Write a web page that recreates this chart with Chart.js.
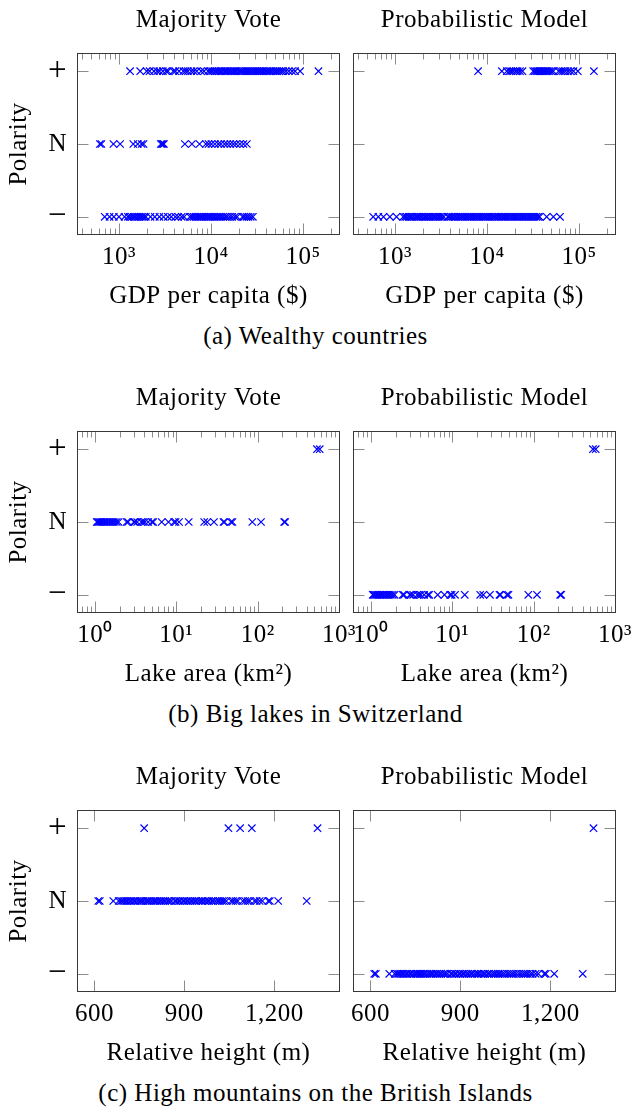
<!DOCTYPE html>
<html>
<head>
<meta charset="utf-8">
<script src="https://cdn.jsdelivr.net/npm/chart.js@4.4.1/dist/chart.umd.min.js"></script>
<style>
  body { margin: 0; background: #fff; width: 631px; height: 1107px; position: relative; overflow: hidden; }
  canvas { position: absolute; }
  .caption { position: absolute; left: 0; width: 631px; text-align: center; font: 25px "Liberation Serif"; letter-spacing: 0.5px; line-height: 30px; color: #000; }
</style>
</head>
<body>
<script>
// ---- data ----
const gdpTicks = [1e3, 1e4, 1e5];
const gdpTickLabels = ['10³', '10⁴', '10⁵'];
const gdpMinorTicks = [400, 500, 600, 700, 800, 900, 2000, 3000, 4000, 5000, 6000, 7000, 8000, 9000,
  20000, 30000, 40000, 50000, 60000, 70000, 80000, 90000, 200000];

const lakeTicks = [1, 10, 100, 1000];
const lakeTickLabels = ['10⁰', '10¹', '10²', '10³'];
const lakeMinorTicks = [0.7, 0.8, 0.9, 2, 3, 4, 5, 6, 7, 8, 9, 20, 30, 40, 50, 60, 70, 80, 90,
  200, 300, 400, 500, 600, 700, 800, 900];

const heightTicks = [600, 900, 1200];
const heightTickLabels = ['600', '900', '1,200'];

const polarityTicks = [-1, 0, 1];
const polarityLabels = ['−', 'N', '+'];

// (a) GDP per capita
const gdpVotePos = [1320, 1700, 2000, 2150, 2400, 2600, 2750, 3000, 3250, 3400, 3900, 4100, 4500, 5000,
  5300, 5600, 6100, 6500, 7000, 7800, 8400, 9300, 9800, 10300, 10900, 11400, 12000, 12600, 13100,
  13900, 14500, 15200, 16000, 16700, 17500, 18200, 19000, 20100, 21000, 21800, 22900, 24000, 25200,
  26300, 27600, 28800, 30200, 31500, 33000, 34400, 36000, 37500, 39500, 41000, 43000, 45000, 47500,
  50000, 52000, 55000, 58000, 61000, 65000, 70000, 76000, 82000, 93000, 147000];
const gdpVoteNeutral = [620, 645, 870, 1030, 1430, 1600, 1760, 1850, 2850, 2920, 3000, 3080, 5200,
  6200, 7500, 8800, 9400, 10100, 11000, 12000, 12800, 14000, 15000, 16200, 17500, 18800, 20600,
  22500, 24500];
const gdpVoteNeg = [700, 790, 880, 1000, 1150, 1250, 1310, 1380, 1450, 1500, 1580, 1650, 1730, 1800,
  1880, 1960, 2200, 2450, 2750, 3050, 3400, 3700, 4100, 4400, 4800, 5100, 5900, 6200, 6500, 6800,
  7100, 7400, 7700, 8000, 8400, 8800, 9200, 9600, 10000, 10500, 11000, 11600, 12200, 12800, 13500,
  14300, 15000, 16000, 17000, 18200, 19200, 22000, 23000, 24300, 25500, 27000, 28500];
const gdpModelPos = [8000, 14500, 16400, 17500, 18300, 19300, 20500, 21500, 22800, 24300, 31800,
  33200, 34500, 35800, 37000, 38300, 39600, 41000, 42500, 44000, 45800, 47800, 50000, 52500, 60000,
  63500, 67000, 71000, 76000, 81000, 87000, 97000, 145000];
const gdpModelNeg = [580, 660, 750, 880, 1040, 1230, 1290, 1340, 1410, 1470, 1520, 1600, 1690, 1750,
  1820, 1910, 1990, 2100, 2170, 2250, 2370, 2460, 2590, 2700, 2810, 2960, 3080, 3230, 3400, 3750,
  3870, 4060, 4220, 4430, 4600, 4850, 5050, 5300, 5500, 5780, 6050, 6300, 6600, 6870, 7200, 7550,
  7860, 8250, 8600, 9000, 9420, 9800, 10300, 10750, 11300, 11850, 12300, 12900, 13450, 14100, 14750,
  15400, 16050, 16800, 17600, 18400, 19250, 20100, 21000, 21950, 23000, 24100, 25100, 26200, 27500,
  28700, 30000, 31300, 32800, 34300, 35900, 37300, 44500, 52600, 62100];

// (b) lake area
const lakesVotePos = [536, 580];
const lakesVoteNeutral = [1.05, 1.08, 1.12, 1.16, 1.2, 1.25, 1.3, 1.36, 1.42, 1.5, 1.58, 1.66, 1.75,
  1.85, 1.95, 2.45, 2.55, 3.0, 3.1, 3.3, 3.7, 3.9, 4.1, 4.5, 5.0, 5.2, 6.6, 8.0, 9.4, 9.8, 10.8, 14.2,
  22, 24, 29, 38, 39, 47, 49, 86, 110, 212, 218];
const lakesModelPos = [536, 580];
const lakesModelNeg = [1.05, 1.08, 1.12, 1.16, 1.2, 1.25, 1.3, 1.36, 1.42, 1.5, 1.58, 1.66, 1.75,
  1.85, 1.95, 2.45, 2.55, 3.0, 3.1, 3.3, 3.7, 3.9, 4.1, 4.5, 5.0, 5.2, 6.6, 8.0, 9.4, 9.8, 10.8, 14.2,
  22, 24, 29, 38, 39, 47, 49, 86, 110, 212, 218];

// (c) relative height
const mtnVotePos = [766, 1047, 1086, 1125, 1344];
const mtnVoteNeutral = [613, 618, 663, 681, 688, 693, 699, 706, 711, 719, 724, 732, 737, 745, 752,
  757, 763, 771, 777, 782, 790, 797, 803, 809, 817, 822, 830, 836, 844, 850, 857, 868, 873, 881, 886,
  895, 900, 908, 913, 921, 927, 935, 940, 948, 956, 961, 969, 977, 982, 991, 996, 1004, 1012, 1018,
  1026, 1032, 1040, 1056, 1063, 1071, 1078, 1095, 1103, 1111, 1118, 1134, 1141, 1151, 1160, 1180,
  1185, 1213, 1308];
const mtnModelPos = [1344];
const mtnModelNeg = [...mtnVoteNeutral, 766, 1047, 1086, 1125];

// ---- layout ----
const FONT = 'Liberation Serif';
const BLUE = '#0000ff';
const CANVAS_H = 320;
const PLOT_TOP = 53;
const PLOT_H = 182;
const textFont = { family: FONT, size: 25, weight: 'normal', lineHeight: 1.2 };
const signFont = { family: FONT, size: 33, weight: 'normal', lineHeight: 1.2 };

const framePlugin = {
  id: 'frame',
  beforeDraw(chart) {
    chart.ctx.letterSpacing = '0.5px';
  },
  afterDraw(chart) {
    const { ctx, chartArea: a, scales: { x, y } } = chart;
    const minor = chart.options.plugins.frame.minor || [];
    const l = Math.round(a.left) + 0.5, r = Math.round(a.right) - 0.5;
    const t = Math.round(a.top) + 0.5, b = Math.round(a.bottom) - 0.5;
    ctx.save();
    ctx.letterSpacing = '0px';
    ctx.lineWidth = 1;
    ctx.strokeStyle = '#8c8c8c';
    ctx.beginPath();
    const tickX = (v, len) => {
      const px = Math.round(x.getPixelForValue(v)) + 0.5;
      ctx.moveTo(px, t); ctx.lineTo(px, t + len);
      ctx.moveTo(px, b); ctx.lineTo(px, b - len);
    };
    x.ticks.forEach(tk => tickX(tk.value, 11));
    minor.forEach(v => tickX(v, 6));
    y.ticks.forEach(tk => {
      const py = Math.round(y.getPixelForValue(tk.value)) + 0.5;
      ctx.moveTo(l, py); ctx.lineTo(l + 11, py);
      ctx.moveTo(r, py); ctx.lineTo(r - 11, py);
    });
    ctx.stroke();
    ctx.strokeStyle = '#383838';
    ctx.strokeRect(l, t, r - l, b - t);
    ctx.restore();
  }
};

function makePanel(rowTop, isLeft, title, axis, groups) {
  const canvas = document.createElement('canvas');
  const cx = isLeft ? 0 : 335;
  const cw = isLeft ? 365 : 296;
  canvas.width = cw;
  canvas.height = CANVAS_H;
  canvas.style.left = cx + 'px';
  canvas.style.top = rowTop + 'px';
  document.body.appendChild(canvas);

  new Chart(canvas, {
    type: 'scatter',
    data: {
      datasets: groups.map(g => ({
        data: g.values.map(v => ({ x: v, y: g.y })),
        pointStyle: 'crossRot',
        pointRadius: 5.2,
        pointBorderWidth: 1.2,
        borderColor: BLUE,
        backgroundColor: BLUE
      }))
    },
    options: {
      responsive: false,
      animation: false,
      devicePixelRatio: 1,
      layout: { padding: { left: 0, top: 0, bottom: 0, right: isLeft ? 25 : 15 } },
      plugins: {
        legend: { display: false },
        tooltip: { enabled: false },
        title: {
          display: true,
          text: title,
          fullSize: false,
          color: '#000',
          font: textFont,
          padding: { top: 5, bottom: PLOT_TOP - 35 }
        },
        frame: { minor: axis.minor }
      },
      scales: {
        x: {
          type: axis.type,
          position: 'bottom',
          min: axis.min,
          max: axis.max,
          bounds: 'data',
          grid: { display: false, drawTicks: false },
          border: { display: false },
          afterBuildTicks: s => { s.ticks = axis.ticks.map(v => ({ value: v })); },
          afterFit: s => {
            s.height = CANVAS_H - PLOT_TOP - PLOT_H;
            s.paddingLeft = 0;
            s.paddingRight = 0;
          },
          ticks: {
            autoSkip: false,
            maxRotation: 0,
            minRotation: 0,
            padding: 7,
            color: '#000',
            font: textFont,
            callback: (v, i) => axis.labels[i]
          },
          title: {
            display: true,
            text: axis.title,
            color: '#000',
            font: textFont,
            padding: { top: 0, bottom: 9 }
          }
        },
        y: {
          type: 'linear',
          min: -1.25,
          max: 1.25,
          bounds: 'data',
          grid: { display: false, drawTicks: false },
          border: { display: false },
          afterBuildTicks: s => { s.ticks = polarityTicks.map(v => ({ value: v })); },
          afterFit: s => {
            s.width = isLeft ? 77 : 18;
            s.paddingTop = 0;
            s.paddingBottom = 0;
          },
          ticks: {
            display: isLeft,
            padding: 10,
            color: '#000',
            font: c => (c.tick && c.tick.value !== 0 ? signFont : textFont),
            callback: (v, i) => polarityLabels[i]
          },
          title: {
            display: isLeft,
            text: 'Polarity',
            color: '#000',
            font: textFont,
            padding: { top: 4, bottom: 0 }
          }
        }
      }
    },
    plugins: [framePlugin]
  });
}

function caption(rowTop, text) {
  const d = document.createElement('div');
  d.className = 'caption';
  d.style.top = (rowTop + 321) + 'px';
  d.textContent = text;
  document.body.appendChild(d);
}

const gdpAxis = { type: 'logarithmic', min: 350, max: 252000, ticks: gdpTicks, labels: gdpTickLabels,
  minor: gdpMinorTicks, title: 'GDP per capita ($)' };
const lakeAxis = { type: 'logarithmic', min: 0.6, max: 1030, ticks: lakeTicks, labels: lakeTickLabels,
  minor: lakeMinorTicks, title: 'Lake area (km²)' };
const heightAxis = { type: 'linear', min: 542, max: 1419, ticks: heightTicks, labels: heightTickLabels,
  minor: [], title: 'Relative height (m)' };

makePanel(0, true, 'Majority Vote', gdpAxis, [
  { values: gdpVotePos, y: 1 }, { values: gdpVoteNeutral, y: 0 }, { values: gdpVoteNeg, y: -1 }]);
makePanel(0, false, 'Probabilistic Model', gdpAxis, [
  { values: gdpModelPos, y: 1 }, { values: gdpModelNeg, y: -1 }]);
caption(0, '(a) Wealthy countries');

makePanel(378, true, 'Majority Vote', lakeAxis, [
  { values: lakesVotePos, y: 1 }, { values: lakesVoteNeutral, y: 0 }]);
makePanel(378, false, 'Probabilistic Model', lakeAxis, [
  { values: lakesModelPos, y: 1 }, { values: lakesModelNeg, y: -1 }]);
caption(378, '(b) Big lakes in Switzerland');

makePanel(757, true, 'Majority Vote', heightAxis, [
  { values: mtnVotePos, y: 1 }, { values: mtnVoteNeutral, y: 0 }]);
makePanel(757, false, 'Probabilistic Model', heightAxis, [
  { values: mtnModelPos, y: 1 }, { values: mtnModelNeg, y: -1 }]);
caption(757, '(c) High mountains on the British Islands');
</script>
</body>
</html>
